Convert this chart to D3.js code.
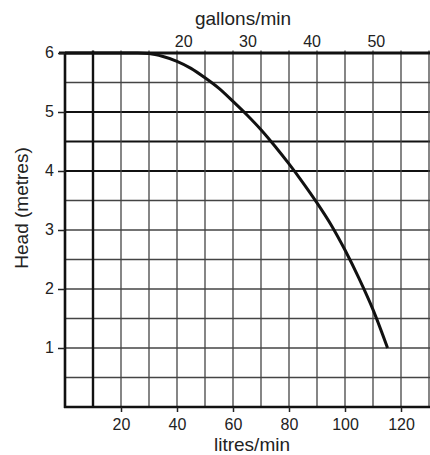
<!DOCTYPE html>
<html><head><meta charset="utf-8">
<script src="https://cdn.jsdelivr.net/npm/d3@7"></script>
<style>body{margin:0;background:#fff}svg{display:block}text{font-family:"Liberation Sans",Arial,sans-serif;fill:#222}</style>
</head><body><svg id="c" width="430" height="455"></svg>
<script>
const litres = [0, 10, 20, 26, 30, 35, 40, 45, 50, 55, 60, 65, 70, 75, 80, 85, 90, 95, 100, 105, 110, 115.2];
const head   = [6.0, 6.0, 6.0, 6.0, 5.99, 5.94, 5.86, 5.74, 5.58, 5.40, 5.18, 4.95, 4.70, 4.42, 4.12, 3.80, 3.46, 3.09, 2.66, 2.18, 1.65, 1.0];
const litreTicks = [20, 40, 60, 80, 100, 120];
const gallonTicks = [20, 30, 40, 50];
const headTicks = [1, 2, 3, 4, 5, 6];
const vGrid = [10, 20, 30, 40, 50, 60, 70, 80, 90, 100, 110, 120, 130];
const hGrid = [0.5, 1, 1.5, 2, 2.5, 3, 3.5, 4, 4.5, 5, 5.5];
const boldH = [4, 4.5, 5];
const boldV = [10];

const svg = d3.select("#c");
const x = d3.scaleLinear().domain([0, 130]).range([65, 429]);
const y = d3.scaleLinear().domain([0, 6]).range([407, 53]);
const xg = d3.scaleLinear().domain([20, 50]).range([x(42.2), x(111)]);
const FONT = "Liberation Sans, Arial, sans-serif";

const g = svg.append("g");
g.selectAll(".hg").data(hGrid).join("line")
  .attr("x1", x(0)).attr("x2", 430)
  .attr("y1", d => y(d)).attr("y2", d => y(d))
  .attr("stroke", d => boldH.includes(d) ? "#111" : "#444")
  .attr("stroke-width", d => boldH.includes(d) ? 2.2 : 1.3);
g.selectAll(".vg").data(vGrid).join("line")
  .attr("x1", d => x(d)).attr("x2", d => x(d))
  .attr("y1", y(0)).attr("y2", y(6) - 2.5)
  .attr("stroke", d => boldV.includes(d) ? "#111" : "#444")
  .attr("stroke-width", d => boldV.includes(d) ? 2.4 : 1.3);

g.append("line").attr("x1", x(0) - 6).attr("x2", 430).attr("y1", y(6)).attr("y2", y(6))
  .attr("stroke", "#111").attr("stroke-width", 2.8);
g.append("line").attr("x1", x(0) - 1).attr("x2", 430).attr("y1", y(0)).attr("y2", y(0))
  .attr("stroke", "#111").attr("stroke-width", 2.6);

const yAxis = d3.axisLeft(y).tickValues(headTicks).tickSize(7).tickPadding(4).tickFormat(d3.format("d"));
const ya = svg.append("g").attr("transform", `translate(${x(0)},0)`).call(yAxis);
ya.select(".domain").attr("stroke", "#111").attr("stroke-width", 2.6).attr("d", `M0,${y(0)+1}V${y(6)-1}`);
ya.selectAll(".tick line").attr("stroke", "#222").attr("stroke-width", 1.5);
ya.selectAll(".tick text").attr("font-size", 16).attr("font-family", FONT).attr("fill", "#333").attr("dy", "0.3em");

const xAxis = d3.axisBottom(x).tickValues(litreTicks).tickSize(5).tickPadding(7).tickFormat(d3.format("d"));
const xa = svg.append("g").attr("transform", `translate(0,${y(0)})`).call(xAxis);
xa.select(".domain").remove();
xa.selectAll(".tick line").attr("stroke", "#222").attr("stroke-width", 1.5);
xa.selectAll(".tick text").attr("font-size", 16).attr("font-family", FONT).attr("fill", "#333");

const gAxis = d3.axisTop(xg).tickValues(gallonTicks).tickSize(0).tickPadding(6).tickFormat(d3.format("d"));
const ga = svg.append("g").attr("transform", `translate(0,${y(6)})`).call(gAxis);
ga.select(".domain").remove();
ga.selectAll(".tick text").attr("font-size", 16).attr("font-family", FONT).attr("fill", "#333");

const pts = litres.map((l, i) => [l, head[i]]);
svg.append("path").datum(pts)
  .attr("fill", "none").attr("stroke", "#111").attr("stroke-width", 3)
  .attr("d", d3.line().x(d => x(d[0])).y(d => y(d[1])).curve(d3.curveMonotoneX));

svg.append("text").attr("x", 243).attr("y", 25).attr("text-anchor", "middle").attr("font-size", 19).attr("fill", "#333").text("gallons/min");
svg.append("text").attr("x", 252).attr("y", 451).attr("text-anchor", "middle").attr("font-size", 19).attr("fill", "#333").text("litres/min");
svg.append("text").attr("transform", `translate(28,208) rotate(-90)`).attr("text-anchor", "middle").attr("font-size", 19).attr("fill", "#333").text("Head (metres)");
</script></body></html>
